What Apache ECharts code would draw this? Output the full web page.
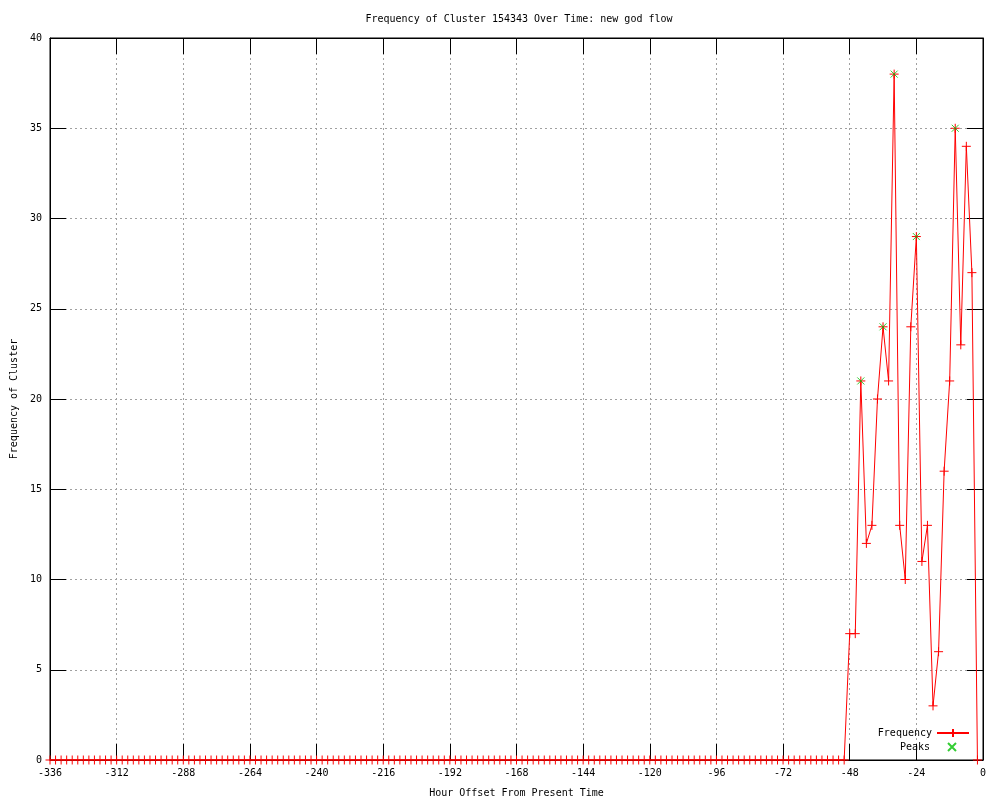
<!DOCTYPE html>
<html>
<head>
<meta charset="utf-8">
<script src="https://cdn.jsdelivr.net/npm/echarts@6/dist/echarts.min.js"></script>
<style>html,body{margin:0;padding:0;background:#fff}#c{width:1000px;height:800px}</style>
</head>
<body>
<div id="c"></div>
<script>
// Hour offsets: -336 to -2, every 2 hours
const hourStart = -336;
const hourStep = 2;
const frequency = [
  0,0,0,0,0,0,0,0,0,0,0,0,0,0,0,0,0,0,0,0,0,0,0,0,
  0,0,0,0,0,0,0,0,0,0,0,0,0,0,0,0,0,0,0,0,0,0,0,0,
  0,0,0,0,0,0,0,0,0,0,0,0,0,0,0,0,0,0,0,0,0,0,0,0,
  0,0,0,0,0,0,0,0,0,0,0,0,0,0,0,0,0,0,0,0,0,0,0,0,
  0,0,0,0,0,0,0,0,0,0,0,0,0,0,0,0,0,0,0,0,0,0,0,0,
  0,0,0,0,0,0,0,0,0,0,0,0,0,0,0,0,0,0,0,0,0,0,0,0,
  7,7,21,12,13,20,24,21,38,13,10,24,29,11,13,3,6,16,21,35,23,34,27,0
];
const peakHours = [-44, -36, -32, -24, -10];
const peakValues = [21, 24, 38, 29, 35];
const xTicks = {min: -336, max: 0, interval: 24};
const yTicks = {min: 0, max: 40, interval: 5};

const freqData = frequency.map((v, i) => [hourStart + hourStep * i, v]);
const peakData = peakHours.map((h, i) => [h, peakValues[i]]);

const FONT = 'DejaVu Sans Mono';
const plusSym = 'path://M0,5L10,5M5,0L5,10';
const crossSym = 'path://M0,0L8,8M8,0L0,8';
const green = '#00c000';

const chart = echarts.init(document.getElementById('c'), null, {renderer: 'canvas'});
const tickStyle = {show: true, inside: true, length: 16, lineStyle: {color: '#000', width: 1}};
const gridLine = {show: true, lineStyle: {color: '#a0a0a0', type: [2, 3], width: 1}};
chart.setOption({
  animation: false,
  backgroundColor: '#fff',
  textStyle: {fontFamily: FONT},
  title: {
    text: 'Frequency of Cluster 154343 Over Time: new god flow',
    left: 514, top: 9, textAlign: 'center',
    textStyle: {fontFamily: FONT, fontSize: 10, fontWeight: 'normal', color: '#000'}
  },
  grid: {left: 50, right: 17, top: 38, bottom: 40, outerBoundsMode: 'none', containLabel: false,
         show: true, borderColor: '#000', borderWidth: 1},
  legend: [
    {
      data: ['Frequency'], orient: 'vertical', right: 30, top: 728, align: 'right', padding: 0,
      itemWidth: 32, itemHeight: 10,
      textStyle: {fontFamily: FONT, fontSize: 10, color: '#000'}
    },
    {
      data: ['Peaks'], orient: 'vertical', right: 43, top: 742, align: 'right', padding: 0,
      itemWidth: 8, itemHeight: 8,
      textStyle: {fontFamily: FONT, fontSize: 10, color: '#000', padding: [0, 13, 0, 0]}
    }
  ],
  xAxis: [
    {
      type: 'value', position: 'bottom', ...xTicks,
      name: 'Hour Offset From Present Time', nameLocation: 'middle', nameGap: 28,
      nameTextStyle: {fontFamily: FONT, fontSize: 10, color: '#000'},
      axisLine: {show: true, onZero: false, lineStyle: {color: '#000'}},
      axisTick: tickStyle,
      axisLabel: {fontFamily: FONT, fontSize: 10, color: '#000', margin: 8},
      splitLine: gridLine
    },
    {
      type: 'value', position: 'top', ...xTicks,
      axisLine: {show: true, onZero: false, lineStyle: {color: '#000'}},
      axisTick: tickStyle, axisLabel: {show: false}, splitLine: {show: false}
    }
  ],
  yAxis: [
    {
      type: 'value', position: 'left', ...yTicks,
      name: 'Frequency of Cluster', nameLocation: 'middle', nameGap: 31, nameRotate: 90,
      nameTextStyle: {fontFamily: FONT, fontSize: 10, color: '#000'},
      axisLine: {show: true, onZero: false, lineStyle: {color: '#000'}},
      axisTick: tickStyle,
      axisLabel: {fontFamily: FONT, fontSize: 10, color: '#000', margin: 8},
      splitLine: gridLine
    },
    {
      type: 'value', position: 'right', ...yTicks,
      axisLine: {show: true, onZero: false, lineStyle: {color: '#000'}},
      axisTick: tickStyle, axisLabel: {show: false}, splitLine: {show: false}
    }
  ],
  series: [
    {
      name: 'Frequency', type: 'line', data: freqData,
      xAxisIndex: 0, yAxisIndex: 0,
      symbol: plusSym, symbolSize: 9, showSymbol: true, showAllSymbol: true,
      lineStyle: {color: '#ff0000', width: 1},
      itemStyle: {color: '#ff0000', borderColor: '#ff0000', borderWidth: 1},
      emphasis: {disabled: true}, z: 3
    },
    {
      name: 'Peaks', type: 'scatter', data: peakData,
      xAxisIndex: 0, yAxisIndex: 0,
      symbol: crossSym, symbolSize: 7,
      itemStyle: {color: green, borderColor: green, borderWidth: 1},
      emphasis: {disabled: true}, z: 4
    }
  ]
});
</script>
</body>
</html>
